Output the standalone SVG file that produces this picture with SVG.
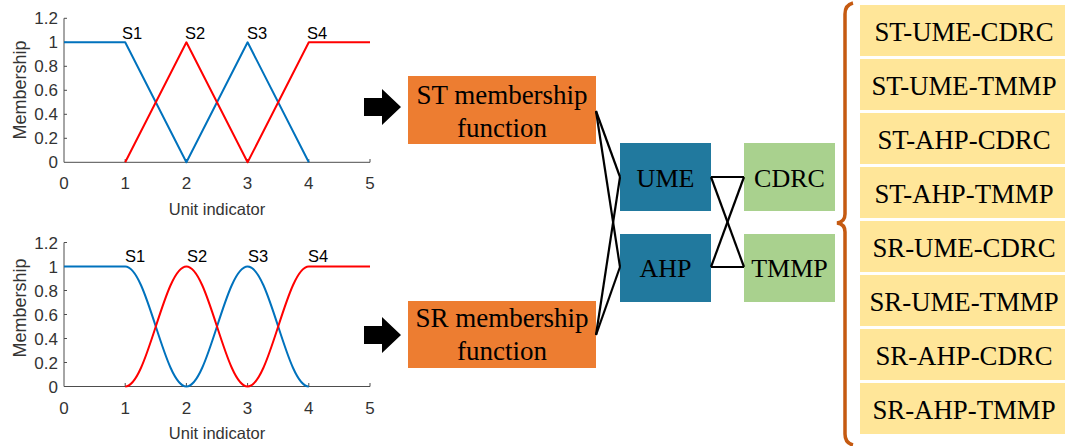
<svg xmlns="http://www.w3.org/2000/svg" width="1068" height="446" viewBox="0 0 1068 446">
<style>
.ax{stroke:#4d4d4d;stroke-width:1;fill:none}
.tk{font-family:"Liberation Sans",Arial,sans-serif;font-size:17px;fill:#333}
.lab{font-family:"Liberation Sans",Arial,sans-serif;font-size:16.5px;fill:#333}
.ml{font-size:18px}
.s{font-family:"Liberation Sans",Arial,sans-serif;font-size:16.5px;fill:#000;text-anchor:middle}
.blue{stroke:#0072BD;stroke-width:2;fill:none;stroke-linejoin:round}
.red{stroke:#FF0000;stroke-width:2;fill:none;stroke-linejoin:round}
.bt{font-family:"Liberation Serif","Times New Roman",serif;font-size:26px;fill:#000;text-anchor:middle}
.big{font-size:27px}
.ys{font-size:26.8px}
.or{fill:#ED7D31}
.te{fill:#21799E}
.gr{fill:#A9D18E}
.ye{fill:#FFE699}
.con{stroke:#000;stroke-width:2.2;fill:none}
.arr{fill:#000}
</style>

<g id="plot-st">
  <path class="ax" d="M64,18.3 V162.3 H370 M370,162.3 V159 M125.2,162.3 V159 M186.4,162.3 V159 M247.6,162.3 V159 M308.8,162.3 V159 M64,138.3 H67 M64,114.3 H67 M64,90.3 H67 M64,66.3 H67 M64,42.3 H67 M64,18.3 H67"/>
  <g class="tk" text-anchor="end">
    <text x="58" y="168.3">0</text>
    <text x="58" y="144.3">0.2</text>
    <text x="58" y="120.3">0.4</text>
    <text x="58" y="96.3">0.6</text>
    <text x="58" y="72.3">0.8</text>
    <text x="58" y="48.3">1</text>
    <text x="58" y="24.3">1.2</text>
  </g>
  <g class="tk" text-anchor="middle">
    <text x="64" y="189">0</text>
    <text x="125.2" y="189">1</text>
    <text x="186.4" y="189">2</text>
    <text x="247.6" y="189">3</text>
    <text x="308.8" y="189">4</text>
    <text x="370" y="189">5</text>
  </g>
  <text class="lab" x="217" y="215" text-anchor="middle">Unit indicator</text>
  <text class="lab ml" transform="translate(26,90) rotate(-90)" text-anchor="middle">Membership</text>
  <path class="blue" d="M64,42.3 H125.2 L186.4,162.3 L247.6,42.3 L308.8,162.3"/>
  <path class="red" d="M125.2,162.3 L186.4,42.3 L247.6,162.3 L308.8,42.3 H370"/>
  <text class="s" x="132" y="39">S1</text>
  <text class="s" x="195" y="39">S2</text>
  <text class="s" x="257" y="39">S3</text>
  <text class="s" x="317" y="39">S4</text>
</g>

<g id="plot-sr">
  <path class="ax" d="M64,242.5 V386.5 H370 M370,386.5 V383 M125.2,386.5 V383 M186.4,386.5 V383 M247.6,386.5 V383 M308.8,386.5 V383 M64,362.5 H67 M64,338.5 H67 M64,314.5 H67 M64,290.5 H67 M64,266.5 H67 M64,242.5 H67"/>
  <g class="tk" text-anchor="end">
    <text x="58" y="392.5">0</text>
    <text x="58" y="368.5">0.2</text>
    <text x="58" y="344.5">0.4</text>
    <text x="58" y="320.5">0.6</text>
    <text x="58" y="296.5">0.8</text>
    <text x="58" y="272.5">1</text>
    <text x="58" y="248.5">1.2</text>
  </g>
  <g class="tk" text-anchor="middle">
    <text x="64" y="414">0</text>
    <text x="125.2" y="414">1</text>
    <text x="186.4" y="414">2</text>
    <text x="247.6" y="414">3</text>
    <text x="308.8" y="414">4</text>
    <text x="370" y="414">5</text>
  </g>
  <text class="lab" x="217" y="439" text-anchor="middle">Unit indicator</text>
  <text class="lab ml" transform="translate(26,308) rotate(-90)" text-anchor="middle">Membership</text>
  <path class="blue" d="M64,266.5 H125.2 C147.5,266.5 164.1,386.5 186.4,386.5 C208.7,386.5 225.3,266.5 247.6,266.5 C269.9,266.5 286.5,386.5 308.8,386.5"/>
  <path class="red" d="M125.2,386.5 C147.5,386.5 164.1,266.5 186.4,266.5 C208.7,266.5 225.3,386.5 247.6,386.5 C269.9,386.5 286.5,266.5 308.8,266.5 H370"/>
  <text class="s" x="135" y="262">S1</text>
  <text class="s" x="197" y="262">S2</text>
  <text class="s" x="258" y="262">S3</text>
  <text class="s" x="318" y="262">S4</text>
</g>

<g id="arrow-st"><polygon class="arr" points="364,98 382,98 382,89 401,107 382,125 382,116 364,116"/></g>
<g id="arrow-sr"><polygon class="arr" points="364,326 382,326 382,317 401,335 382,353 382,344 364,344"/></g>

<g id="st-mf">
  <rect class="or" x="408" y="76" width="188" height="68"/>
  <text class="bt big" x="502" y="104">ST membership</text>
  <text class="bt big" x="502" y="137">function</text>
</g>
<g id="sr-mf">
  <rect class="or" x="408" y="301" width="188" height="67"/>
  <text class="bt big" x="502" y="327">SR membership</text>
  <text class="bt big" x="502" y="360">function</text>
</g>
<g id="ume">
  <rect class="te" x="620" y="143" width="91" height="68"/>
  <text class="bt" x="665.5" y="187">UME</text>
</g>
<g id="ahp">
  <rect class="te" x="620" y="234" width="91" height="68"/>
  <text class="bt" x="665.5" y="277">AHP</text>
</g>
<g id="cdrc">
  <rect class="gr" x="744" y="143" width="91" height="68"/>
  <text class="bt" x="789.5" y="187">CDRC</text>
</g>
<g id="tmmp">
  <rect class="gr" x="744" y="234" width="91" height="68"/>
  <text class="bt" x="789.5" y="277">TMMP</text>
</g>

<g id="connectors">
  <line class="con" x1="596" y1="111" x2="620" y2="177"/>
  <line class="con" x1="596" y1="111" x2="620" y2="267"/>
  <line class="con" x1="596" y1="335" x2="620" y2="177"/>
  <line class="con" x1="596" y1="335" x2="620" y2="267"/>
  <line class="con" x1="711" y1="177" x2="744" y2="177"/>
  <line class="con" x1="711" y1="177" x2="744" y2="267"/>
  <line class="con" x1="711" y1="267" x2="744" y2="267"/>
  <line class="con" x1="711" y1="267" x2="744" y2="177"/>
</g>

<g id="brace">
  <path d="M853,3 Q845,5 845,14 V214 Q845,222 837,223 Q845,224 845,232 V434 Q845,443 853,445" fill="none" stroke="#C55A11" stroke-width="3.5"/>
</g>

<g id="combos">
  <g id="c1"><rect class="ye" x="860" y="5" width="205" height="51"/><text class="bt ys" x="964" y="40.5">ST-UME-CDRC</text></g>
  <g id="c2"><rect class="ye" x="860" y="59" width="205" height="51"/><text class="bt ys" x="964" y="94.5">ST-UME-TMMP</text></g>
  <g id="c3"><rect class="ye" x="860" y="113" width="205" height="51"/><text class="bt ys" x="964" y="148.5">ST-AHP-CDRC</text></g>
  <g id="c4"><rect class="ye" x="860" y="167" width="205" height="51"/><text class="bt ys" x="964" y="202.5">ST-AHP-TMMP</text></g>
  <g id="c5"><rect class="ye" x="860" y="221" width="205" height="51"/><text class="bt ys" x="964" y="256.5">SR-UME-CDRC</text></g>
  <g id="c6"><rect class="ye" x="860" y="275" width="205" height="51"/><text class="bt ys" x="964" y="310.5">SR-UME-TMMP</text></g>
  <g id="c7"><rect class="ye" x="860" y="329" width="205" height="51"/><text class="bt ys" x="964" y="364.5">SR-AHP-CDRC</text></g>
  <g id="c8"><rect class="ye" x="860" y="383" width="205" height="51"/><text class="bt ys" x="964" y="418.5">SR-AHP-TMMP</text></g>
</g>
</svg>
